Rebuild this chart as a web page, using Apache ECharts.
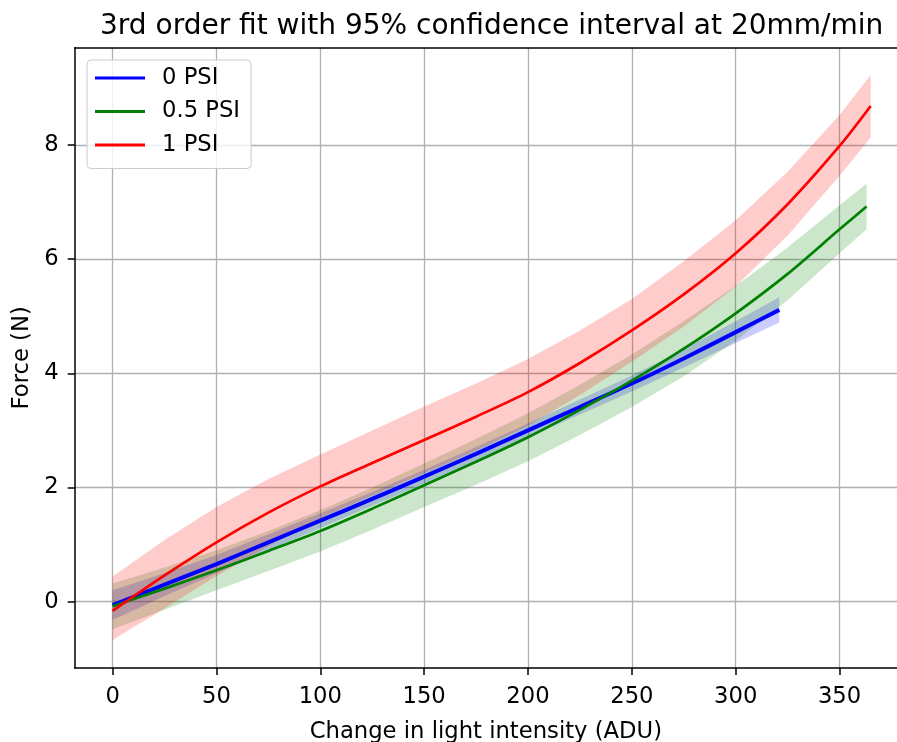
<!DOCTYPE html>
<html><head><meta charset="utf-8">
<script src="https://cdn.jsdelivr.net/npm/echarts@6/dist/echarts.min.js"></script>
<style>html,body{margin:0;padding:0;background:#fff}#c{width:897px;height:742px}</style>
</head><body><div id="c"></div>
<script>
// ---- data ----
const titleText = '3rd order fit with 95% confidence interval at 20mm/min';
const xName = 'Change in light intensity (ADU)';
const yName = 'Force (N)';
const xTicks = [0, 50, 100, 150, 200, 250, 300, 350];
const yTicks = [0, 2, 4, 6, 8];
const names = ['0 PSI', '0.5 PSI', '1 PSI'];

// 0 PSI
const x0 = [0, 25, 50, 75, 100, 125, 150, 175, 200, 225, 250, 275, 300, 321];
const y0 = [-0.06, 0.30, 0.66, 1.04, 1.42, 1.80, 2.19, 2.59, 3.00, 3.41, 3.82, 4.26, 4.72, 5.11];
const up0 = [0.20, 0.50, 0.82, 1.18, 1.55, 1.92, 2.31, 2.71, 3.12, 3.54, 3.96, 4.42, 4.91, 5.33];
const lo0 = [-0.32, 0.10, 0.50, 0.90, 1.29, 1.68, 2.07, 2.47, 2.88, 3.28, 3.68, 4.10, 4.53, 4.89];

// 0.5 PSI
const x05 = [0, 25, 50, 75, 100, 125, 150, 175, 200, 225, 250, 275, 300, 325, 350, 363];
const y05 = [-0.08, 0.23, 0.55, 0.89, 1.24, 1.63, 2.04, 2.45, 2.88, 3.36, 3.87, 4.43, 5.05, 5.74, 6.52, 6.92];
const up05 = [0.32, 0.60, 0.90, 1.24, 1.60, 2.00, 2.42, 2.85, 3.30, 3.80, 4.33, 4.91, 5.53, 6.20, 6.94, 7.32];
const lo05 = [-0.48, -0.14, 0.20, 0.54, 0.88, 1.26, 1.66, 2.05, 2.46, 2.92, 3.41, 3.95, 4.57, 5.28, 6.10, 6.52];

// 1 PSI
const x1 = [0, 25, 50, 75, 100, 125, 150, 175, 200, 225, 250, 275, 300, 325, 350, 365];
const y1 = [-0.16, 0.46, 1.04, 1.56, 2.02, 2.43, 2.83, 3.24, 3.67, 4.18, 4.75, 5.38, 6.10, 6.96, 7.98, 8.68];
const up1 = [0.44, 1.08, 1.66, 2.15, 2.58, 3.00, 3.42, 3.82, 4.25, 4.75, 5.30, 5.96, 6.68, 7.53, 8.52, 9.22];
const lo1 = [-0.67, -0.12, 0.45, 0.97, 1.46, 1.86, 2.25, 2.65, 3.08, 3.62, 4.20, 4.82, 5.52, 6.41, 7.46, 8.13];

// ---- chart ----
const FONT = 'DejaVu Sans';
const colors = ['#0000ff', '#008000', '#ff0000'];
const bandFill = ['rgba(0,0,255,0.2)', 'rgba(0,128,0,0.2)', 'rgba(255,0,0,0.2)'];
const lineW = [4, 2.7, 2.7];
const sets = [[x0, y0, up0, lo0], [x05, y05, up05, lo05], [x1, y1, up1, lo1]];
const X_MIN = -18.25, X_MAX = 377.66, Y_MIN = -1.16, Y_MAX = 9.70;

function pairs(xs, ys) { return xs.map((x, i) => [x, ys[i]]); }

const series = [];
sets.forEach((s, k) => {
  const [xs, , up, lo] = s;
  series.push({
    type: 'custom', silent: true, z: 1,
    data: [[xs[0], up[0]]],
    encode: { x: 0, y: 1 },
    renderItem: function (params, api) {
      const pts = [];
      for (let i = 0; i < xs.length; i++) pts.push(api.coord([xs[i], up[i]]));
      for (let i = xs.length - 1; i >= 0; i--) pts.push(api.coord([xs[i], lo[i]]));
      return { type: 'polygon', shape: { points: pts }, style: { fill: bandFill[k], stroke: null } };
    }
  });
});
sets.forEach((s, k) => {
  series.push({
    name: names[k], type: 'line', z: 3 + k, color: colors[k],
    data: pairs(s[0], s[1]), smooth: 0.3, symbol: 'none',
    lineStyle: { width: lineW[k], color: colors[k] }
  });
});

const spine = { color: '#000', width: 1.5 };
const chart = echarts.init(document.getElementById('c'), null, { renderer: 'canvas' });
chart.setOption({
  animation: false,
  backgroundColor: '#ffffff',
  textStyle: { fontFamily: FONT },
  title: {
    text: titleText, left: 95, top: 8,
    textStyle: { fontFamily: FONT, fontSize: 28, fontWeight: 'normal', color: '#000' }
  },
  legend: {
    data: names, orient: 'vertical', left: 87, top: 60,
    icon: 'rect', itemWidth: 50, itemHeight: 3, itemGap: 10.5,
    padding: [6.5, 11, 12, 8],
    backgroundColor: 'rgba(255,255,255,0.8)', borderColor: '#cccccc', borderWidth: 1, borderRadius: 4,
    textStyle: { fontFamily: FONT, fontSize: 22.7, color: '#000', padding: [0, 0, 0, 12] }
  },
  grid: {
    left: 74.7, top: 47.7, right: 0, height: 620.3, containLabel: false, outerBoundsMode: 'none', show: false
  },
  xAxis: [{
    type: 'value', min: X_MIN, max: X_MAX,
    name: xName, nameLocation: 'middle', nameGap: 53,
    nameTextStyle: { fontFamily: FONT, fontSize: 22.7, color: '#000' },
    axisLine: { show: true, onZero: false, lineStyle: spine },
    axisTick: { show: true, length: 7, inside: false, lineStyle: spine, customValues: xTicks },
    axisLabel: { fontFamily: FONT, fontSize: 22.7, color: '#000', margin: 18, customValues: xTicks },
    splitLine: { show: true, lineStyle: { color: '#b0b0b0', width: 1.3 } }
  }, {
    type: 'value', min: X_MIN, max: X_MAX, position: 'top',
    axisLine: { show: true, onZero: false, lineStyle: spine },
    axisTick: { show: false }, axisLabel: { show: false }, splitLine: { show: false }
  }],
  yAxis: {
    type: 'value', min: Y_MIN, max: Y_MAX,
    name: yName, nameLocation: 'middle', nameGap: 40, nameRotate: 90,
    nameTextStyle: { fontFamily: FONT, fontSize: 22.7, color: '#000' },
    axisLine: { show: true, onZero: false, lineStyle: spine },
    axisTick: { show: true, length: 7, inside: false, lineStyle: spine, customValues: yTicks },
    axisLabel: { fontFamily: FONT, fontSize: 22.7, color: '#000', margin: 16, customValues: yTicks },
    splitLine: { show: true, lineStyle: { color: '#b0b0b0', width: 1.3 } }
  },
  series: series
});
</script>
</body></html>
